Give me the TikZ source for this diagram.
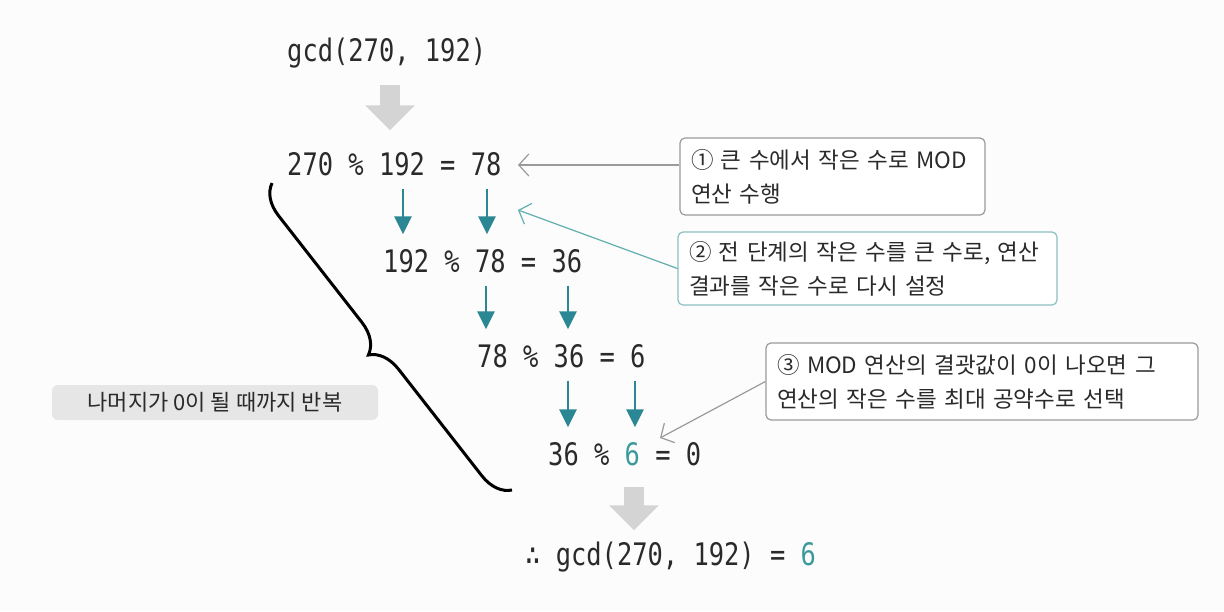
\documentclass[tikz,border=0pt]{standalone}
\usepackage{fontspec}
\setmonofont{DejaVu Sans Mono}[FakeStretch=0.82]
\newfontfamily\kor{Noto Sans CJK KR}
\usetikzlibrary{calc,arrows.meta,decorations.pathreplacing}
\definecolor{ink}{HTML}{2A2A2A}
\definecolor{stepteal}{HTML}{2B8793}
\definecolor{numteal}{HTML}{3A9A9A}
\definecolor{noteteal}{HTML}{8CC0C0}
\definecolor{notegray}{HTML}{9A9A9A}
\definecolor{biggray}{HTML}{D4D4D4}
\definecolor{tagfill}{HTML}{E6E6E6}
\newcommand{\mono}{\ttfamily\fontsize{31}{36}\selectfont}
\newcommand{\hl}[1]{{\color{numteal}#1}}

\begin{document}
\begin{tikzpicture}[x=1pt,y=-1pt,
  line/.style={draw=none,fill=none,anchor=west,inner sep=0pt,text height=22pt,text depth=3pt,font=\mono,text=ink},
  note/.style={draw=notegray,line width=1.2pt,rounded corners=5pt,fill=white,align=left,inner xsep=11pt,inner ysep=4pt,font=\kor\fontsize{22.5}{34}\selectfont,text=ink},
  stepdown/.style={draw=stepteal,line width=2.6pt,-{Triangle[length=18pt,width=17pt]},shorten <=10pt,shorten >=16pt},
  bigdown/.style={draw=biggray,line width=20pt,-{Triangle[length=25pt,width=48pt]}},
  pointer/.style={draw=notegray,line width=1.2pt,-{Straight Barb[length=10pt,width=22pt]}}]
  % Background:
  \fill[white!98!gray] (0,0) rectangle (1224,611);

  % Steps
  \node[line] (gcd) at (287,52) {gcd(270, 192)};
  \node[line] (r1) at (287,166) {270 \% 192 = 78};
  \node[line] (r2) at (383,263) {192 \% 78 = 36};
  \node[line] (r3) at (477,358) {78 \% 36 = 6};
  \node[line] (r4) at (548,456) {36 \% \hl{6} = 0};
  \node[line] (res) at (525,556) {∴ gcd(270, 192) = \hl{6}};

  % Big arrows
  \draw[bigdown,shorten <=20pt,shorten >=23pt] (gcd.south -| 390,0) -- (r1.north -| 390,0);
  \draw[bigdown,shorten <=18pt,shorten >=13pt] (r4.south -| 634,0) -- (res.north -| 634,0);

  % Numbers carried down
  \foreach \x/\a/\b in {403/r1/r2, 487/r1/r2, 486/r2/r3, 568/r2/r3, 568/r3/r4, 635/r3/r4}
    \draw[stepdown] (\a.south -| \x,0) -- (\b.north -| \x,0);

  % Brace and loop tag
  \coordinate (bracetop) at (272,183);
  \coordinate (bracebot) at (512,490);
  \draw[black,line width=3pt,decorate,decoration={brace,amplitude=30pt}] (bracebot) -- (bracetop);
  \node[fill=tagfill,rounded corners=6pt,minimum width=326pt,minimum height=35pt,font=\kor\fontsize{22}{24}\selectfont,text=ink] (tag) at (215,402.5) {나머지가 0이 될 때까지 반복};

  % Notes
  \node[note,text width=283pt,minimum height=77pt] (note1) at (832.5,176.5) {① 큰 수에서 작은 수로 MOD\\연산 수행};
  \node[note,draw=noteteal,text width=357pt,minimum height=73pt] (note2) at (867.5,268.5) {② 전 단계의 작은 수를 큰 수로, 연산\\결과를 작은 수로 다시 설정};
  \node[note,text width=410pt,minimum height=77pt] (note3) at (982,381.5) {③ MOD 연산의 결괏값이 0이 나오면 그\\연산의 작은 수를 최대 공약수로 선택};

  % Pointers
  \coordinate (tip1) at (518,165);
  \coordinate (tip2) at (518,210);
  \coordinate (tip3) at (660,438);
  \draw[pointer] (note1.west |- tip1) -- (tip1);
  \draw[pointer,draw=numteal!80] (note2.west) -- (tip2);
  \draw[pointer] (note3.west) -- (tip3);
\end{tikzpicture}
\end{document}
